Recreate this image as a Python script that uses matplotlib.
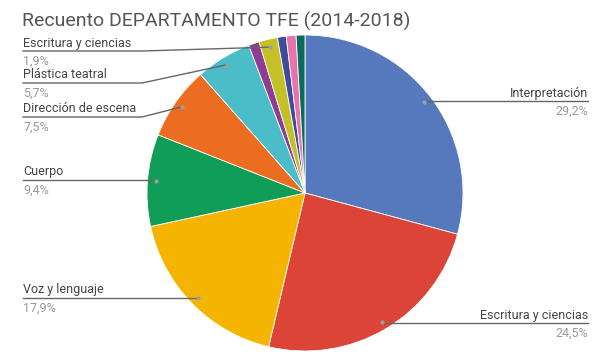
import numpy as np
import matplotlib.pyplot as plt

plt.rcParams['font.family'] = ['Roboto', 'DejaVu Sans']

# data (clockwise from 12 o'clock)
labels = ['Interpretación', 'Escritura y ciencias', 'Voz y lenguaje', 'Cuerpo',
          'Dirección de escena', 'Plástica teatral', '', 'Escritura y ciencias',
          '', '', '']
values = [29.2, 24.5, 17.9, 9.4, 7.5, 5.7, 1.1, 1.9, 0.9, 1.0, 0.9]
pct_text = ['29,2%', '24,5%', '17,9%', '9,4%', '7,5%', '5,7%', '', '1,9%', '', '', '']
colors = ['#5579bc', '#db4437', '#f4b400', '#0f9d58', '#ec6d21', '#4bbdc8',
          '#8e3c94', '#c4c028', '#3f4c9b', '#e673ab', '#0a6b5c']

W, H = 600, 357
fig = plt.figure(figsize=(6, 3.57), dpi=100)
ax = fig.add_axes([0, 0, 1, 1])

cx, cy, r = 305, H - 193, 158
ax.pie(values, colors=colors, startangle=90, counterclock=False,
       center=(cx, cy), radius=r, frame=True,
       wedgeprops=dict(edgecolor='white', linewidth=0.6))
ax.set_xlim(0, W)
ax.set_ylim(0, H)
ax.set_aspect('equal')
ax.axis('off')

# label layout: (side, line y in px from top, elbow x)
layout = {
    0: ('right', 101, None),
    1: ('right', 323, None),
    2: ('left', 298, None),
    3: ('left', 180, None),
    4: ('left', 117, 142),
    5: ('left', 83, 142),
    7: ('left', 51, 142),
}

total = sum(values)
cum = np.cumsum([0] + values)
for i, (side, ly, elbow) in layout.items():
    mid = (cum[i] + values[i] / 2) / total * 2 * np.pi
    dx = cx + 150 * np.sin(mid)
    dy = cy + 150 * np.cos(mid)
    y = H - ly
    if side == 'right':
        ax.plot([dx, 588], [y, y], color='#666666', lw=1)
        tx, ha = 588, 'right'
    else:
        if elbow is None:
            ax.plot([23, dx], [y, y], color='#666666', lw=1)
        else:
            ax.plot([23, elbow, dx], [y, y, dy], color='#666666', lw=1)
        tx, ha = 23, 'left'
    ax.plot(dx, dy, 'o', color='#9e9e9e', ms=3, mec='none')
    ax.text(tx, y + 8, labels[i], ha=ha, va='center', fontsize=9, color='#444444')
    ax.text(tx, y - 10, pct_text[i], ha=ha, va='center', fontsize=9, color='#999999')

ax.text(22, H - 21, 'Recuento DEPARTAMENTO TFE (2014-2018)', ha='left', va='center',
        fontsize=14, color='#555555')

fig.savefig('out.png', dpi=100)
